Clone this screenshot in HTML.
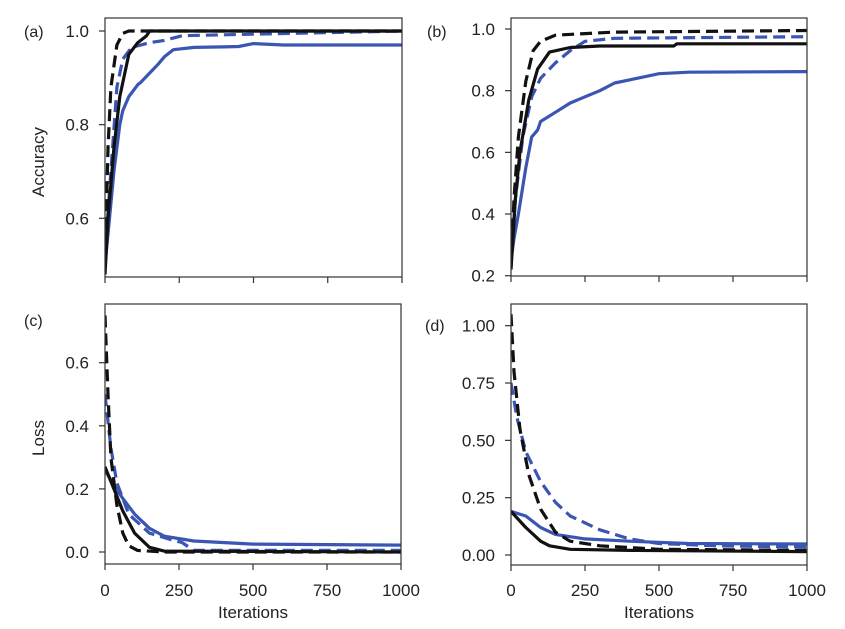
<!DOCTYPE html>
<html><head><meta charset="utf-8"><style>
html,body{margin:0;padding:0;background:#fff;}
svg{display:block;font-family:"Liberation Sans",Arial,sans-serif;}
</style></head><body>
<svg id="fig" width="845" height="629" viewBox="0 0 845 629"></svg>
<script>
const xTicks=[0,250,500,750,1000];
const xTickLabels=["0","250","500","750","1000"];
// Panel a
const aBlackDashX=[0,10,20,40,60,80,1000];
const aBlackDashY=[0.5,0.75,0.88,0.97,0.995,1.0,1.0];
const aBlackX=[0,10,30,50,80,110,140,150,1000];
const aBlackY=[0.48,0.6,0.75,0.86,0.95,0.975,0.99,1.0,1.0];
const aBlueDashX=[0,20,40,60,90,150,200,260,1000];
const aBlueDashY=[0.52,0.7,0.88,0.94,0.965,0.975,0.98,0.99,1.0];
const aBlueX=[0,15,30,50,60,80,110,120,150,180,200,230,300,400,450,500,600,1000];
const aBlueY=[0.5,0.6,0.7,0.8,0.83,0.86,0.885,0.89,0.91,0.93,0.945,0.96,0.965,0.966,0.967,0.973,0.97,0.97];
// Panel b
const bBlackDashX=[0,10,25,50,75,100,150,250,350,1000];
const bBlackDashY=[0.23,0.45,0.65,0.83,0.93,0.96,0.98,0.985,0.99,0.995];
const bBlackX=[0,15,30,60,90,130,200,300,550,560,1000];
const bBlackY=[0.22,0.45,0.6,0.77,0.87,0.925,0.94,0.945,0.945,0.952,0.952];
const bBlueDashX=[0,15,40,70,100,150,200,250,350,1000];
const bBlueDashY=[0.25,0.45,0.65,0.78,0.84,0.89,0.93,0.96,0.97,0.975];
const bBlueX=[0,10,25,50,70,90,100,150,200,250,300,350,400,500,600,1000];
const bBlueY=[0.25,0.32,0.4,0.55,0.65,0.672,0.7,0.73,0.76,0.78,0.8,0.825,0.835,0.855,0.86,0.862];
// Panel c
const cBlackDashX=[0,10,20,40,60,80,110,200,1000];
const cBlackDashY=[0.75,0.5,0.3,0.15,0.06,0.02,0.005,0,0];
const cBlackX=[0,30,60,100,150,200,1000];
const cBlackY=[0.27,0.2,0.13,0.06,0.015,0.003,0];
const cBlueDashX=[0,20,40,80,150,220,260,300,1000];
const cBlueDashY=[0.5,0.33,0.22,0.12,0.06,0.04,0.03,0.005,0.005];
const cBlueX=[0,30,60,100,150,200,300,500,1000];
const cBlueY=[0.26,0.21,0.17,0.12,0.075,0.05,0.035,0.025,0.022];
// Panel d
const dBlackDashX=[0,10,30,60,100,150,200,300,500,1000];
const dBlackDashY=[1.05,0.8,0.55,0.35,0.2,0.1,0.06,0.04,0.025,0.02];
const dBlueDashX=[0,20,50,100,150,200,300,400,500,700,1000];
const dBlueDashY=[0.75,0.6,0.45,0.32,0.23,0.17,0.11,0.07,0.05,0.04,0.035];
const dBlackX=[0,50,100,130,200,400,1000];
const dBlackY=[0.19,0.12,0.06,0.04,0.025,0.02,0.015];
const dBlueX=[0,50,100,150,250,400,600,1000];
const dBlueY=[0.19,0.17,0.12,0.09,0.07,0.06,0.05,0.048];

const aTicks=[0.6,0.8,1.0], aLabels=["0.6","0.8","1.0"];
const bTicks=[0.2,0.4,0.6,0.8,1.0], bLabels=["0.2","0.4","0.6","0.8","1.0"];
const cTicks=[0,0.2,0.4,0.6], cLabels=["0.0","0.2","0.4","0.6"];
const dTicks=[0,0.25,0.5,0.75,1.0], dLabels=["0.00","0.25","0.50","0.75","1.00"];

const NS="http://www.w3.org/2000/svg";
const svg=document.getElementById('fig');
const BLUE="#3a55b2", BLACK="#111";
function mk(tag,attrs,parent){const e=document.createElementNS(NS,tag);for(const k in attrs)e.setAttribute(k,attrs[k]);(parent||svg).appendChild(e);return e;}

const panels=[
 {id:'a',box:[105,18,402,277],y0:1.0,py0:31,y1:0.6,py1:218.3,ticks:aTicks,labels:aLabels,tag:"(a)",tagPos:[24,37],
  series:[[aBlueX,aBlueY,BLUE,false],[aBlueDashX,aBlueDashY,BLUE,true],[aBlackX,aBlackY,BLACK,false],[aBlackDashX,aBlackDashY,BLACK,true]],xlabels:false},
 {id:'b',box:[511,18,807,276],y0:1.0,py0:29,y1:0.2,py1:275.7,ticks:bTicks,labels:bLabels,tag:"(b)",tagPos:[427,37],
  series:[[bBlueX,bBlueY,BLUE,false],[bBlueDashX,bBlueDashY,BLUE,true],[bBlackX,bBlackY,BLACK,false],[bBlackDashX,bBlackDashY,BLACK,true]],xlabels:false},
 {id:'c',box:[105,304,401,564],y0:0.6,py0:362.7,y1:0,py1:552,ticks:cTicks,labels:cLabels,tag:"(c)",tagPos:[24,326],
  series:[[cBlueX,cBlueY,BLUE,false],[cBlueDashX,cBlueDashY,BLUE,true],[cBlackX,cBlackY,BLACK,false],[cBlackDashX,cBlackDashY,BLACK,true]],xlabels:true},
 {id:'d',box:[511,304,807,565],y0:1.0,py0:325.7,y1:0,py1:555,ticks:dTicks,labels:dLabels,tag:"(d)",tagPos:[425,331],
  series:[[dBlueX,dBlueY,BLUE,false],[dBlueDashX,dBlueDashY,BLUE,true],[dBlackX,dBlackY,BLACK,false],[dBlackDashX,dBlackDashY,BLACK,true]],xlabels:true}
];

panels.forEach(p=>{
  const [L,T,R,B]=p.box;
  const g=mk('g',{});
  
  
  const xs=v=>L+(R-L)*v/1000;
  const ys=v=>p.py1+(v-p.y1)*(p.py0-p.py1)/(p.y0-p.y1);
  const cp=mk('clipPath',{id:'clip'+p.id},g);
  mk('rect',{x:L,y:T,width:R-L,height:B-T},cp);
  const sg=mk('g',{'clip-path':'url(#clip'+p.id+')'},g);
  p.series.forEach((s,i)=>{
    const d=s[0].map((x,j)=>(j?'L':'M')+xs(x).toFixed(1)+','+ys(s[1][j]).toFixed(1)).join(' ');
    const path=mk('path',{d:d,fill:'none',stroke:s[2],'stroke-width':3.2,'stroke-linejoin':'round'},sg);
    if(s[3])path.setAttribute('stroke-dasharray','12,6');
    
    
  });
  const frame=mk('rect',{x:L,y:T,width:R-L,height:B-T,fill:'none',stroke:'#333','stroke-width':1.2},g);
  
  
  p.ticks.forEach((t,i)=>{
    const y=ys(t);
    mk('line',{x1:L-6,x2:L,y1:y,y2:y,stroke:'#333','stroke-width':1.2},g);
    const tx=mk('text',{x:L-16,y:y+6,'text-anchor':'end','font-size':17,fill:'#222'},g);
    tx.textContent=p.labels[i];
    
    
  });
  xTicks.forEach((t,i)=>{
    const x=xs(t);
    mk('line',{x1:x,x2:x,y1:B,y2:B+6,stroke:'#333','stroke-width':1.2},g);
    if(p.xlabels){
      const tx=mk('text',{x:x,y:596,'text-anchor':'middle','font-size':17,fill:'#222'},g);
      tx.textContent=xTickLabels[i];
      
      
    }
  });
  if(p.xlabels){
    const t=mk('text',{x:(L+R)/2,y:618,'text-anchor':'middle','font-size':17,fill:'#222'},g);
    t.textContent='Iterations';
    
    
  }
  const tg=mk('text',{x:p.tagPos[0],y:p.tagPos[1],'font-size':16,fill:'#222'},g);
  tg.textContent=p.tag;
  
  
});
const ya=mk('text',{x:0,y:0,transform:'translate(44,162) rotate(-90)','text-anchor':'middle','font-size':17,fill:'#222'});
ya.textContent='Accuracy';


const yl=mk('text',{x:0,y:0,transform:'translate(44,438) rotate(-90)','text-anchor':'middle','font-size':17,fill:'#222'});
yl.textContent='Loss';


</script>
</body></html>
